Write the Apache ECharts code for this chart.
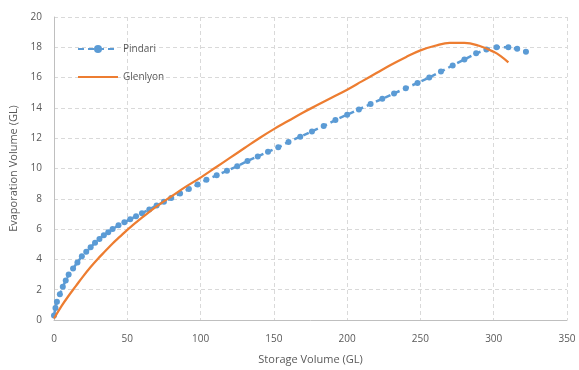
<!DOCTYPE html>
<html><head><meta charset="utf-8">
<script src="https://cdn.jsdelivr.net/npm/echarts@6/dist/echarts.min.js"></script>
<style>html,body{margin:0;padding:0;background:#fff}#c{width:579px;height:370px}</style>
</head><body><div id="c"></div>
<script>
const pindariX = [0,1,2,4,6,8,10,13,16,19,22,25,28,31,34,37,40,44,48,52,56,60,65,70,75,80,86,92,98,104,111,118,125,132,139,146,153,160,168,176,184,192,200,208,216,224,232,240,248,256,264,272,280,288,295,302,310,316,322];
const pindariY = [0.3,0.8,1.2,1.7,2.2,2.6,3.0,3.4,3.8,4.2,4.5,4.8,5.1,5.35,5.6,5.8,6.0,6.25,6.45,6.65,6.85,7.05,7.3,7.55,7.8,8.05,8.35,8.65,8.95,9.25,9.55,9.85,10.15,10.5,10.8,11.1,11.4,11.75,12.1,12.45,12.8,13.2,13.55,13.9,14.25,14.6,14.95,15.3,15.65,16.0,16.4,16.8,17.2,17.6,17.85,18.0,18.0,17.9,17.7];
const glenlyonX = [0,5,10,15,20,25,30,35,40,45,50,60,70,80,90,100,110,120,130,140,150,160,170,180,190,200,210,220,230,240,250,260,270,280,290,300,305,310];
const glenlyonY = [0.1,0.9,1.6,2.25,2.9,3.5,4.05,4.55,5.05,5.5,5.95,6.75,7.5,8.15,8.8,9.4,10.05,10.7,11.35,12.0,12.6,13.15,13.7,14.2,14.7,15.2,15.75,16.3,16.85,17.35,17.8,18.1,18.3,18.3,18.1,17.7,17.4,17.0];
const xTicks = [0,50,100,150,200,250,300,350];
const yTicks = [0,2,4,6,8,10,12,14,16,18,20];

const pair = (xs, ys) => xs.map((x, i) => [x, ys[i]]);
const chart = echarts.init(document.getElementById('c'));
const grid = {show:true,lineStyle:{color:'#d9d9d9',type:[4,3],width:1}};
chart.setOption({
  animation:false,
  textStyle:{fontFamily:'Open Sans, sans-serif'},
  grid:{left:54,right:12,top:17,bottom:46},
  legend:{
    orient:'vertical', left:72, top:39, itemGap:18, itemWidth:40, itemHeight:10,
    textStyle:{color:'#595959',fontSize:10},
    data:[{name:'Pindari'},{name:'Glenlyon',itemStyle:{opacity:0}}]
  },
  xAxis:{
    type:'value', min:xTicks[0], max:xTicks[xTicks.length-1], interval:50,
    name:'Storage Volume (GL)', nameLocation:'middle', nameGap:34,
    nameTextStyle:{color:'#595959',fontSize:11},
    axisLine:{lineStyle:{color:'#bfbfbf'}}, axisTick:{show:false},
    axisLabel:{color:'#595959',fontSize:10,margin:14},
    splitLine:grid
  },
  yAxis:{
    type:'value', min:yTicks[0], max:yTicks[yTicks.length-1], interval:2,
    name:'Evaporation Volume (GL)', nameLocation:'middle', nameGap:28,
    nameTextStyle:{color:'#595959',fontSize:11},
    axisLine:{show:true,lineStyle:{color:'#bfbfbf'}}, axisTick:{show:false},
    axisLabel:{color:'#595959',fontSize:10,margin:12},
    splitLine:grid
  },
  series:[
    {name:'Pindari', type:'line', data:pair(pindariX,pindariY),
     symbol:'circle', symbolSize:6, showAllSymbol:true,
     itemStyle:{color:'#5B9BD5'},
     lineStyle:{color:'#5B9BD5',width:2.5,type:[6,4]}, z:2},
    {name:'Glenlyon', type:'line', data:pair(glenlyonX,glenlyonY),
     symbol:'none', smooth:0.4,
     itemStyle:{color:'#ED7D31'},
     lineStyle:{color:'#ED7D31',width:2.25}, z:3}
  ]
});
</script></body></html>
